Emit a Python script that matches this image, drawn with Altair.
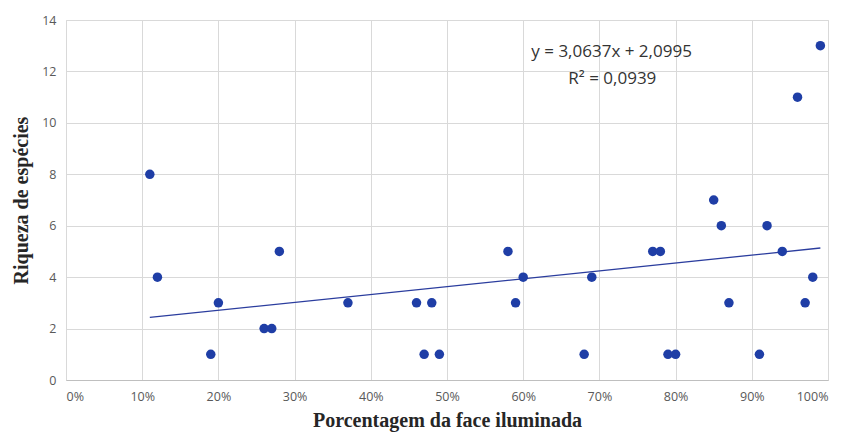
import altair as alt
import pandas as pd

# Data
pct = [0.11, 0.12, 0.19, 0.20, 0.26, 0.27, 0.28, 0.37, 0.46, 0.47, 0.48, 0.49,
       0.58, 0.59, 0.60, 0.68, 0.69, 0.77, 0.78, 0.79, 0.80, 0.85, 0.86, 0.87,
       0.91, 0.92, 0.94, 0.96, 0.97, 0.98, 0.99]
riqueza = [8, 4, 1, 3, 2, 2, 5, 3, 3, 1, 3, 1,
           5, 3, 4, 1, 4, 5, 5, 1, 1, 7, 6, 3,
           1, 6, 5, 11, 3, 4, 13]
slope = 3.0637
intercept = 2.0995
eq_lines = ["y = 3,0637x + 2,0995", "R² = 0,0939"]
x_ticks = [i / 10 for i in range(11)]
y_ticks = [0, 2, 4, 6, 8, 10, 12, 14]

df = pd.DataFrame({"x": pct, "y": riqueza})
xmin, xmax = min(pct), max(pct)
trend = pd.DataFrame({"x": [xmin, xmax],
                      "y": [slope * xmin + intercept, slope * xmax + intercept]})
ann = pd.DataFrame({"x": [0.716, 0.717], "y": [12.75, 11.7], "t": eq_lines})

label_font = "Open Sans"
title_font = "Liberation Serif"

xscale = alt.Scale(domain=[0, 1], nice=False)
yscale = alt.Scale(domain=[0, 14], nice=False)

xenc = alt.X("x:Q", scale=xscale,
             axis=alt.Axis(values=x_ticks, format=".0%", title="Porcentagem da face iluminada",
                           labelFont=label_font, labelFontSize=12.5, labelColor="#595959",
                           labelPadding=10, ticks=False, domainColor="#bfbfbf",
                           gridColor="#d9d9d9", titleFont=title_font, titleFontSize=20,
                           titleFontWeight="bold", titleColor="#262626", titlePadding=8))
yenc = alt.Y("y:Q", scale=yscale,
             axis=alt.Axis(values=y_ticks, title="Riqueza de espécies",
                           labelFont=label_font, labelFontSize=12.5, labelColor="#595959",
                           labelPadding=10, ticks=False, domain=False,
                           gridColor="#d9d9d9", titleFont=title_font, titleFontSize=20,
                           titleFontWeight="bold", titleColor="#262626", titlePadding=10))

points = alt.Chart(df).mark_circle(size=90, color="#1f3ea6", opacity=1).encode(x=xenc, y=yenc)

line = alt.Chart(trend).mark_line(color="#2b3d9e", strokeWidth=1.3).encode(
    x=alt.X("x:Q", scale=xscale), y=alt.Y("y:Q", scale=yscale))

text = alt.Chart(ann).mark_text(font=label_font, fontSize=17, color="#333333",
                                align="center", baseline="middle").encode(
    x=alt.X("x:Q", scale=xscale), y=alt.Y("y:Q", scale=yscale), text="t:N")

chart = (line + points + text).properties(
    width=762, height=360,
    autosize=alt.AutoSizeParams(type="none"),
    padding={"left": 58, "top": 12, "right": 10, "bottom": 52},
).configure_view(stroke=None).configure(background="white")

chart.save("out.html", embed_options={"renderer": "svg", "actions": False})
